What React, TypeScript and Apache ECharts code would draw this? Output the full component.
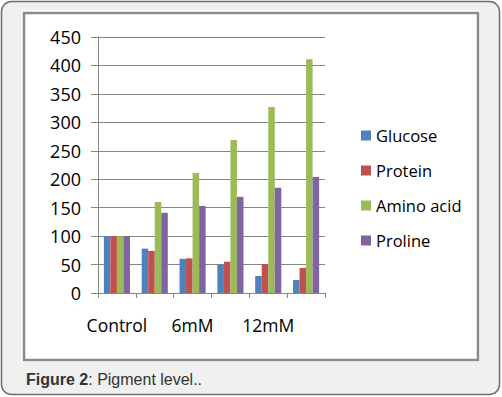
import React, { useEffect, useRef } from "react";
import * as echarts from "echarts";

const categories = ["Control", "", "6mM", "", "12mM", ""];
const seriesNames = ["Glucose", "Protein", "Amino acid", "Proline"];
const glucose = [100, 78, 60, 50, 30, 23];
const protein = [100, 74, 61, 55, 51, 44];
const aminoAcid = [100, 160, 211, 269, 327, 411];
const proline = [100, 141, 153, 169, 185, 204];
const colors = ["#4F81BD", "#C0504D", "#9BBB59", "#8064A2"];

export default function App() {
  const ref = useRef<HTMLDivElement>(null);
  useEffect(() => {
    document.body.style.margin = "0";
    const chart = echarts.init(ref.current!, undefined, { renderer: "svg" });
    const values = [glucose, protein, aminoAcid, proline];
    chart.setOption({
      animation: false,
      color: colors,
      grid: { left: 98, top: 37, right: 177, bottom: 104, containLabel: false },
      legend: {
        orient: "vertical",
        left: 356,
        top: 122,
        itemWidth: 10,
        itemHeight: 10,
        itemGap: 18,
        icon: "rect",
        textStyle: { fontSize: 16.5, color: "#000", fontFamily: "Open Sans" },
        data: seriesNames,
      },
      xAxis: {
        type: "category",
        data: categories,
        axisLine: { lineStyle: { color: "#868686", width: 1 } },
        axisTick: { show: true, length: 5, lineStyle: { color: "#868686" }, interval: 0 },
        axisLabel: { interval: 0, fontSize: 17.5, color: "#000", margin: 23, fontFamily: "Open Sans" },
      },
      yAxis: {
        type: "value",
        min: 0,
        max: 450,
        interval: 50,
        axisLine: { show: true, lineStyle: { color: "#868686" } },
        axisTick: { show: true, length: 7, lineStyle: { color: "#868686" } },
        axisLabel: { fontSize: 18, color: "#000", margin: 17, fontFamily: "Open Sans" },
        splitLine: { lineStyle: { color: "#868686", width: 1 } },
      },
      series: seriesNames.map((name, i) => ({
        name,
        type: "bar",
        data: values[i],
        barGap: "0%",
        barCategoryGap: "31%",
      })),
      graphic: [
        {
          type: "rect",
          z: -10,
          shape: { x: 1.5, y: 1.5, width: 498, height: 393, r: 10 },
          style: { fill: "#eff0ef", stroke: "#6e6e6e", lineWidth: 1.5 },
        },
        {
          type: "rect",
          z: -9,
          shape: { x: 21, y: 10, width: 459, height: 352 },
          style: { fill: "#ffffff" },
        },
        {
          type: "rect",
          z: -8,
          shape: { x: 24, y: 13, width: 454, height: 347 },
          style: { fill: "#ffffff", stroke: "#8a8a8a", lineWidth: 2.5 },
        },
        {
          type: "text",
          z: 10,
          x: 26,
          y: 371,
          style: {
            text: "{b|Figure 2}: Pigment level..",
            fontSize: 16,
            fontFamily: "Liberation Sans",
            fill: "#333",
            rich: { b: { fontWeight: "bold", fontSize: 16, fontFamily: "Liberation Sans", fill: "#333" } },
          },
        },
      ],
    });
    return () => chart.dispose();
  }, []);
  return <div ref={ref} style={{ width: 502, height: 397 }} />;
}
